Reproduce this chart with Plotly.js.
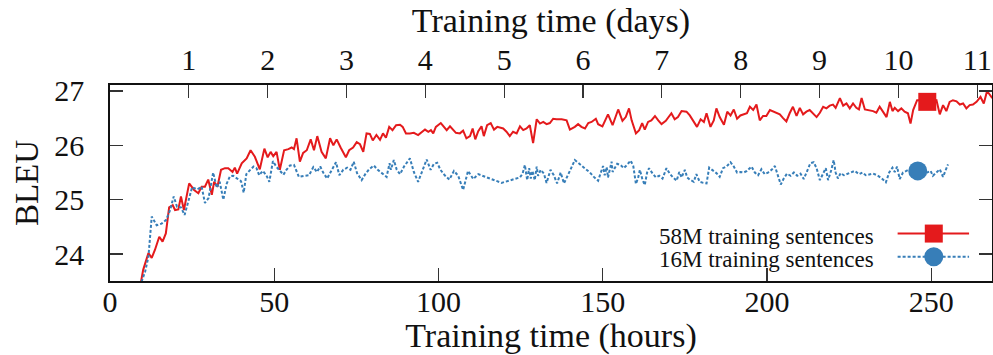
<!DOCTYPE html>
<html>
<head>
<meta charset="utf-8">
<script src="https://cdn.plot.ly/plotly-3.0.1.min.js"></script>
<style>
  html, body { margin: 0; padding: 0; background: #fff; }
  #chart { width: 993px; height: 355px; }
</style>
</head>
<body>
<div id="chart"></div>
<script>
// Training curves: BLEU against wall-clock training time.
// 58M training sentences (red, solid)
const hours58 = [
  9.4, 10.1, 11.7, 12.7, 13.7, 15.0, 16.0, 17.0, 18.0, 19.1, 19.8, 20.8, 21.6, 22.5,
  24.1, 25.6, 26.9, 27.9, 28.9, 29.9, 31.0, 31.7, 32.7, 33.8, 35.0, 36.0, 37.3, 38.0, 38.7,
  40.1, 41.6, 42.8, 44.1, 45.6, 47.0, 48.0, 48.9, 49.7, 50.7, 51.7, 53.0, 54.3, 55.3, 56.0,
  56.8, 57.8, 58.8, 59.9, 61.1, 62.1, 63.1, 64.4, 65.7, 67.0, 68.0, 69.0, 70.2, 71.8, 72.8, 74.0,
  75.1, 76.1, 77.1, 78.1, 79.1, 80.0, 81.1, 82.2, 83.1, 84.0, 85.0, 86.0, 87.1, 88.3,
  89.1, 90.1, 91.3, 92.5, 93.8, 94.9, 95.9, 96.9, 97.7, 98.4, 99.2, 100.7, 101.6, 102.5, 103.5, 104.5, 105.3, 106.5, 107.5, 108.5,
  109.6, 110.4, 111.2, 112.1, 113.1, 113.8, 114.8, 115.9, 116.9, 117.9, 118.9, 119.7, 120.7, 121.7, 122.7, 123.8, 124.8, 125.8, 126.8, 127.8,
  128.8, 129.9, 130.9, 131.9, 132.9, 133.9, 134.9, 135.9, 137.5, 139.0, 140.0, 141.5, 142.5, 143.5, 144.6, 145.6, 146.6, 147.9, 148.6,
  149.9, 151.6, 153.0, 154.7, 156.0, 157.0, 158.0, 158.8, 160.1, 161.1, 162.0, 162.8, 163.8, 164.8, 165.9, 166.9, 167.9,
  169.2, 170.9, 171.9, 172.9, 174.0, 175.5, 176.5, 177.7, 178.7, 179.8, 180.8, 181.6, 182.8, 183.8, 184.6, 185.6,
  186.9, 187.9, 188.9, 189.9, 190.9, 191.9, 192.9, 193.9, 194.8, 195.8, 196.8, 197.8, 198.8, 199.8, 200.9, 201.9, 202.9, 203.9, 204.9, 205.9,
  206.9, 207.9, 209.0, 210.0, 211.0, 212.0, 213.0, 214.0, 215.1, 216.1, 217.1, 218.1, 219.1, 220.1, 220.9,
  222.2, 223.2, 224.2, 225.2, 226.2, 227.2, 228.0, 228.8, 229.8, 231.3, 232.3, 233.3, 234.3, 235.3, 236.4,
  237.4, 238.2, 238.9, 239.9, 240.9, 241.9, 242.9, 243.7, 244.5, 245.7, 247.1, 248.8, 250.1, 251.6,
  252.6, 253.6, 254.6, 255.6, 256.6, 257.7, 258.7, 259.7, 260.7, 261.7, 262.7, 263.8, 265.0, 266.0, 267.0, 267.8, 268.6
];
const bleu58 = [
  23.48, 23.71, 24.02, 23.93, 24.08, 24.32, 24.23, 24.38, 24.86, 24.90, 24.81, 24.82, 25.06, 24.81,
  25.30, 25.18, 25.12, 25.24, 25.24, 25.37, 25.09, 25.33, 25.24, 25.55, 25.58, 25.58, 25.51, 25.59, 25.48,
  25.67, 25.76, 25.91, 25.79, 25.56, 25.94, 25.78, 25.88, 25.80, 25.88, 25.55, 25.91, 25.93, 25.96, 25.93,
  26.13, 25.70, 25.86, 25.91, 26.11, 25.91, 26.17, 25.88, 25.76, 26.13, 26.00, 26.11, 25.96, 25.78, 25.91, 25.96,
  26.06, 26.02, 25.88, 26.22, 26.21, 26.09, 26.19, 26.10, 26.22, 26.14, 26.34, 26.28, 26.37, 26.38,
  26.34, 26.22, 26.22, 26.23, 26.19, 26.25, 26.29, 26.25, 26.28, 26.22, 26.34, 26.41, 26.34, 26.28, 26.35, 26.29, 26.23, 26.22, 26.27, 26.13,
  26.17, 26.31, 26.11, 26.26, 26.35, 26.17, 26.37, 26.41, 26.29, 26.34, 26.33, 26.31, 26.25, 26.17, 26.25, 26.22, 26.35, 26.28, 26.31, 26.37,
  26.04, 26.48, 26.40, 26.43, 26.39, 26.41, 26.49, 26.48, 26.48, 26.46, 26.29, 26.34, 26.39, 26.34, 26.31, 26.41, 26.43, 26.49, 26.39,
  26.35, 26.57, 26.37, 26.66, 26.45, 26.52, 26.68, 26.46, 26.22, 26.28, 26.41, 26.29, 26.43, 26.46, 26.54, 26.46, 26.39,
  26.45, 26.59, 26.48, 26.52, 26.63, 26.62, 26.55, 26.43, 26.34, 26.48, 26.43, 26.59, 26.34, 26.46, 26.68, 26.52,
  26.38, 26.62, 26.55, 26.66, 26.49, 26.55, 26.57, 26.59, 26.71, 26.65, 26.75, 26.46, 26.54, 26.54, 26.65, 26.62, 26.59, 26.57, 26.50, 26.44,
  26.59, 26.71, 26.54, 26.69, 26.57, 26.62, 26.65, 26.59, 26.52, 26.60, 26.71, 26.68, 26.73, 26.75, 26.69,
  26.87, 26.73, 26.77, 26.68, 26.77, 26.69, 26.66, 26.87, 26.66, 26.65, 26.63, 26.60, 26.71, 26.62, 26.52,
  26.80, 26.63, 26.69, 26.63, 26.68, 26.62, 26.59, 26.40, 26.65, 26.83, 26.83, 26.80, 26.81, 26.83,
  26.57, 26.74, 26.63, 26.80, 26.83, 26.81, 26.75, 26.77, 26.68, 26.74, 26.75, 26.80, 26.89, 26.77, 27.00, 26.93, 26.87
];

// 16M training sentences (blue, dashed)
const hours16 = [
  9.6, 10.7, 11.7, 12.7, 14.2, 15.7, 17.1, 18.3, 19.4, 20.4, 21.6, 22.7, 23.8, 25.0,
  26.6, 27.9, 28.9, 30.0, 31.4, 32.5, 33.4, 34.5, 35.5, 36.5, 37.5, 38.6, 39.9, 40.7,
  41.5, 42.4, 43.7, 44.6, 45.4, 46.5, 47.6, 48.5, 49.6, 50.6, 51.6, 52.8, 53.7, 54.8, 56.0,
  57.5, 59.2, 60.6, 61.9, 63.0, 64.0, 64.9, 66.1, 67.1, 68.0, 68.8, 69.8, 71.0, 72.2, 73.2,
  74.2, 75.2, 76.6, 77.8, 78.9, 80.3, 81.5, 82.9, 84.2, 85.1, 85.5, 86.4, 87.3, 88.3, 89.5,
  91.3, 92.5, 93.8, 94.9, 96.4, 97.6, 98.6, 99.6, 100.6, 101.9, 103.3, 104.7, 106.0, 107.5, 109.0, 110.6, 112.1,
  119.2, 124.8, 125.6, 126.3, 127.0, 127.6, 128.1, 128.6, 129.3, 129.9, 130.3, 131.1, 132.1, 132.9, 134.1,
  135.1, 136.1, 137.2, 138.2, 139.2, 140.0, 141.5, 144.0, 146.1, 147.3, 148.6, 149.3, 150.1, 150.6, 151.2,
  151.6, 152.2, 152.7, 153.0, 153.7, 154.4, 155.4, 156.4, 157.4, 158.5, 159.3, 160.1, 160.8, 161.3, 162.1,
  162.8, 163.5, 164.1, 165.2, 166.2, 167.2, 168.2, 169.4, 170.4, 171.4, 172.5, 173.3, 174.0, 175.0, 175.7,
  176.5, 177.7, 178.5, 179.5, 180.6, 181.6, 182.4, 183.4, 184.6, 185.6, 186.6, 187.7, 188.9, 189.9, 190.9,
  191.9, 192.9, 193.9, 195.3, 196.3, 197.3, 198.3, 199.3, 200.3, 201.4, 202.4, 203.4, 204.2, 205.1, 206.1,
  207.2, 208.2, 209.2, 210.2, 211.2, 212.2, 213.2, 214.2, 215.1, 216.1, 217.1, 217.9, 218.6, 219.6, 220.3,
  220.9, 221.6, 222.4, 223.4, 224.7, 225.7, 226.7, 228.0, 229.1, 230.1, 231.3, 232.3, 233.5, 234.8, 236.2,
  237.2, 238.2, 238.9, 239.6, 240.4, 241.4, 242.4, 244.1, 245.9, 247.5, 248.7, 249.8, 250.5, 251.6, 252.6, 253.6, 254.4, 255.1
];
const bleu16 = [
  23.49, 23.68, 23.95, 24.69, 24.53, 24.56, 24.63, 24.81, 25.06, 24.87, 24.86, 24.72, 24.96, 25.23,
  25.19, 25.24, 24.94, 25.03, 25.50, 25.22, 25.33, 25.00, 25.29, 25.43, 25.44, 25.39, 25.34, 25.13,
  25.47, 25.53, 25.61, 25.58, 25.45, 25.53, 25.45, 25.33, 25.71, 25.61, 25.55, 25.46, 25.55, 25.63, 25.64,
  25.42, 25.44, 25.45, 25.60, 25.51, 25.61, 25.50, 25.39, 25.50, 25.61, 25.69, 25.45, 25.55, 25.59, 25.55,
  25.70, 25.49, 25.36, 25.48, 25.56, 25.63, 25.55, 25.48, 25.42, 25.67, 25.55, 25.73, 25.55, 25.47, 25.61,
  25.76, 25.51, 25.33, 25.51, 25.74, 25.55, 25.66, 25.68, 25.55, 25.45, 25.37, 25.53, 25.44, 25.18, 25.53, 25.38, 25.47,
  25.31, 25.41, 25.48, 25.64, 25.36, 25.58, 25.39, 25.53, 25.36, 25.61, 25.44, 25.55, 25.48, 25.31, 25.55,
  25.45, 25.30, 25.50, 25.30, 25.42, 25.53, 25.73, 25.61, 25.50, 25.42, 25.35, 25.48, 25.62, 25.45, 25.60,
  25.41, 25.55, 25.70, 25.51, 25.60, 25.66, 25.64, 25.58, 25.64, 25.72, 25.62, 25.29, 25.41, 25.55, 25.37,
  25.27, 25.50, 25.58, 25.48, 25.41, 25.44, 25.39, 25.58, 25.48, 25.41, 25.35, 25.51, 25.41, 25.55, 25.41,
  25.37, 25.33, 25.47, 25.33, 25.31, 25.30, 25.59, 25.55, 25.49, 25.42, 25.58, 25.61, 25.69, 25.61, 25.50,
  25.51, 25.50, 25.53, 25.61, 25.50, 25.45, 25.56, 25.47, 25.50, 25.55, 25.62, 25.45, 25.28, 25.39, 25.48,
  25.44, 25.50, 25.44, 25.48, 25.38, 25.51, 25.67, 25.69, 25.58, 25.36, 25.50, 25.58, 25.36, 25.55, 25.73,
  25.50, 25.39, 25.49, 25.45, 25.48, 25.50, 25.53, 25.47, 25.50, 25.45, 25.47, 25.48, 25.45, 25.40, 25.32,
  25.50, 25.59, 25.51, 25.61, 25.38, 25.50, 25.53, 25.58, 25.53, 25.45, 25.50, 25.53, 25.44, 25.51, 25.56, 25.42, 25.55, 25.65
];

// Hour at which each curve carries its point symbol
const markHour58 = 248.8;
const markHour16 = 245.9;

const hourTicks = [0, 50, 100, 150, 200, 250];
const dayTicks = [1, 2, 3, 4, 5, 6, 7, 8, 9, 10, 11];
const bleuTicks = [24, 25, 26, 27];

const seriesNames = ['58M training sentences', '16M training sentences'];
const RED = '#e41a1c';
const BLUE = '#377eb8';
const FONT = 'Liberation Serif, Times New Roman, serif';

const HOUR_RANGE = [0, 268.5];
const HOURS_PER_DAY = 24;

const i58 = hours58.indexOf(markHour58);
const i16 = hours16.indexOf(markHour16);

const traces = [
  {
    x: hours58, y: bleu58, type: 'scatter', mode: 'lines',
    line: { color: RED, width: 2 }, hoverinfo: 'skip', showlegend: false
  },
  {
    x: hours16, y: bleu16, type: 'scatter', mode: 'lines',
    line: { color: BLUE, width: 2, dash: '3px,2px' }, hoverinfo: 'skip', showlegend: false
  },
  {
    x: [hours58[i58]], y: [bleu58[i58]], type: 'scatter', mode: 'markers',
    marker: { symbol: 'square', size: 18, color: RED }, hoverinfo: 'skip', showlegend: false
  },
  {
    x: [hours16[i16]], y: [bleu16[i16]], type: 'scatter', mode: 'markers',
    marker: { symbol: 'circle', size: 19, color: BLUE }, hoverinfo: 'skip', showlegend: false
  },
  // day axis carrier (draws nothing)
  {
    x: hours58.map(h => h / HOURS_PER_DAY), y: bleu58, xaxis: 'x2', type: 'scatter',
    mode: 'none', hoverinfo: 'skip', showlegend: false
  }
];

// Legend drawn gnuplot style: label on the left, sample on the right
const legX0 = 0.893, legX1 = 0.974, legMid = 0.934, legTextX = 0.868;
const legY = [0.242, 0.124];
const legTextY = [0.228, 0.110];

const shapes = [
  { type: 'line', xref: 'paper', yref: 'paper', x0: legX0, x1: legX1, y0: legY[0], y1: legY[0],
    line: { color: RED, width: 2 } },
  { type: 'rect', xref: 'paper', yref: 'paper', xsizemode: 'pixel', ysizemode: 'pixel',
    xanchor: legMid, yanchor: legY[0], x0: -9, x1: 9, y0: -9, y1: 9,
    fillcolor: RED, line: { width: 0 } },
  { type: 'line', xref: 'paper', yref: 'paper', x0: legX0, x1: legX1, y0: legY[1], y1: legY[1],
    line: { color: BLUE, width: 2, dash: '3px,2px' } },
  { type: 'circle', xref: 'paper', yref: 'paper', xsizemode: 'pixel', ysizemode: 'pixel',
    xanchor: legMid, yanchor: legY[1], x0: -9.5, x1: 9.5, y0: -9.5, y1: 9.5,
    fillcolor: BLUE, line: { width: 0 } }
];

const annotations = seriesNames.map((name, k) => ({
  text: name, xref: 'paper', yref: 'paper', x: legTextX, y: legTextY[k],
  xanchor: 'right', yanchor: 'middle', showarrow: false,
  font: { family: FONT, size: 23, color: '#111' }
}));

const layout = {
  width: 993, height: 355,
  margin: { l: 110, r: 1, t: 85, b: 74, pad: 0 },
  paper_bgcolor: '#fff', plot_bgcolor: '#fff',
  font: { family: FONT, color: '#111' },
  showlegend: false,
  xaxis: {
    range: HOUR_RANGE, tickvals: hourTicks, ticktext: hourTicks.map(String),
    ticks: 'inside', ticklen: 13, tickwidth: 1.2, tickcolor: '#333',
    showline: true, linecolor: '#111', linewidth: 1.8, mirror: true,
    showgrid: false, zeroline: false,
    tickfont: { family: FONT, size: 30, color: '#111' },
    ticklabelstandoff: -7,
    title: { text: 'Training time (hours)', font: { family: FONT, size: 34, color: '#111' }, standoff: 8 },
    automargin: false
  },
  xaxis2: {
    overlaying: 'x', side: 'top', anchor: 'y',
    range: HOUR_RANGE.map(h => h / HOURS_PER_DAY), tickvals: dayTicks, ticktext: dayTicks.map(String),
    ticks: 'inside', ticklen: 13, tickwidth: 1.2, tickcolor: '#333',
    showline: false, showgrid: false, zeroline: false,
    tickfont: { family: FONT, size: 30, color: '#111' },
    ticklabelstandoff: 8,
    title: { text: 'Training time (days)', font: { family: FONT, size: 34, color: '#111' }, standoff: 0 },
    automargin: false
  },
  yaxis: {
    range: [23.505, 27.11], tickvals: bleuTicks, ticktext: bleuTicks.map(String),
    ticks: 'inside', ticklen: 13, tickwidth: 1.2, tickcolor: '#333',
    showline: true, linecolor: '#111', linewidth: 1.8, mirror: 'ticks',
    showgrid: false, zeroline: false,
    tickfont: { family: FONT, size: 30, color: '#111' },
    ticklabelstandoff: 18,
    title: { text: 'BLEU', font: { family: FONT, size: 33, color: '#111' }, standoff: 6 },
    automargin: false
  },
  shapes: shapes,
  annotations: annotations
};

Plotly.newPlot('chart', traces, layout, { staticPlot: true, displayModeBar: false });
</script>
</body>
</html>
